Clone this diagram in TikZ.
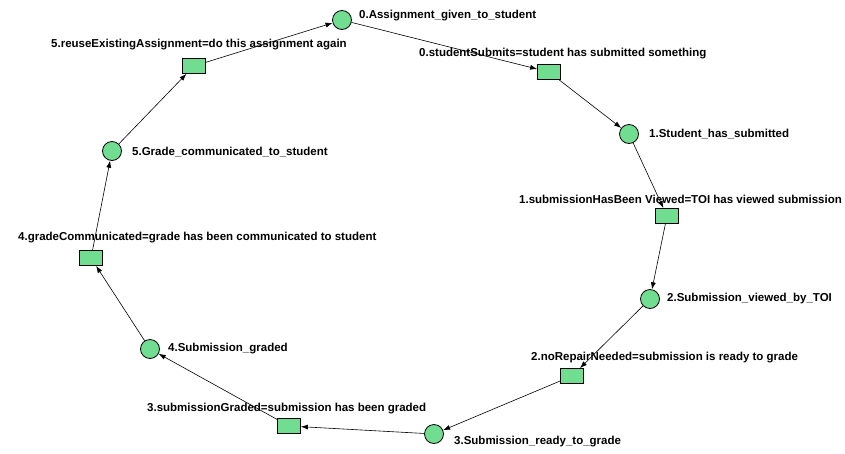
\documentclass[tikz,border=0pt]{standalone}
\usepackage{fontspec}
\setmainfont{Liberation Sans}
\usetikzlibrary{arrows.meta}
\definecolor{netgreen}{RGB}{112,221,145}

\begin{document}
\begin{tikzpicture}[x=1pt,y=-1pt,
  place/.style={circle,draw,fill=netgreen,line width=0.8pt,minimum size=19pt,inner sep=0pt},
  trans/.style={rectangle,draw,fill=netgreen,line width=0.8pt,minimum width=23pt,minimum height=15pt,inner sep=0pt},
  lbl/.style={anchor=west,inner sep=0pt,font=\fontsize{11.5}{13}\selectfont\bfseries},
  arc/.style={-{Latex[length=7pt,width=5pt]},line width=0.6pt}]
  \useasboundingbox (0,0) rectangle (845,453);
  % places
  \node[place] (p0) at (342,20) {};
  \node[place] (p1) at (629,134) {};
  \node[place] (p2) at (650,299) {};
  \node[place] (p3) at (434,434) {};
  \node[place] (p4) at (150,349) {};
  \node[place] (p5) at (112,151) {};
  % transitions
  \node[trans] (t0) at (549,72) {};
  \node[trans] (t1) at (667,216) {};
  \node[trans] (t2) at (572,376) {};
  \node[trans] (t3) at (289,426) {};
  \node[trans] (t4) at (91,258) {};
  \node[trans] (t5) at (194,66) {};
  % labels
  \node[lbl] (lp0) at (359,16) {0.Assignment\_given\_to\_student};
  \node[lbl] (lp1) at (649,134) {1.Student\_has\_submitted};
  \node[lbl] (lp2) at (667,299) {2.Submission\_viewed\_by\_TOI};
  \node[lbl] (lp3) at (454,442) {3.Submission\_ready\_to\_grade};
  \node[lbl] (lp4) at (168,349) {4.Submission\_graded};
  \node[lbl] (lp5) at (132,152) {5.Grade\_communicated\_to\_student};
  \node[lbl] (lt0) at (419,54) {0.studentSubmits=student has submitted something};
  \node[lbl] (lt1) at (519,199) {1.submissionHasBeen Viewed=TOI has viewed submission};
  \node[lbl] (lt2) at (531,358) {2.noRepairNeeded=submission is ready to grade};
  \node[lbl] (lt3) at (147,409) {3.submissionGraded=submission has been graded};
  \node[lbl] (lt4) at (18,238) {4.gradeCommunicated=grade has been communicated to student};
  \node[lbl] (lt5) at (51,45) {5.reuseExistingAssignment=do this assignment again};
  % arcs
  \draw[arc] (p0) -- (t0);
  \draw[arc] (t0) -- (p1);
  \draw[arc] (p1) -- (t1);
  \draw[arc] (t1) -- (p2);
  \draw[arc] (p2) -- (t2);
  \draw[arc] (t2) -- (p3);
  \draw[arc] (p3) -- (t3);
  \draw[arc] (t3) -- (p4);
  \draw[arc] (p4) -- (t4);
  \draw[arc] (t4) -- (p5);
  \draw[arc] (p5) -- (t5);
  \draw[arc] (t5) -- (p0);
\end{tikzpicture}
\end{document}
